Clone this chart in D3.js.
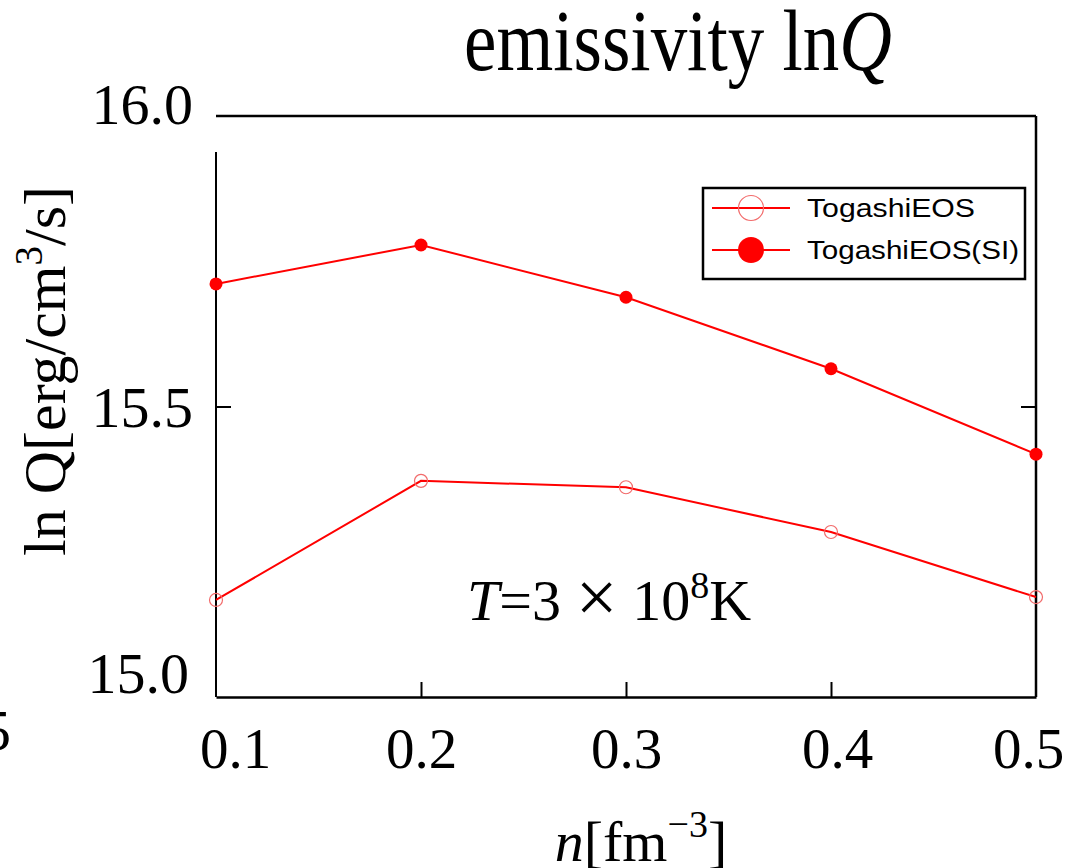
<!DOCTYPE html>
<html><head><meta charset="utf-8">
<script src="https://cdn.jsdelivr.net/npm/d3@7"></script>
<style>
html,body{margin:0;padding:0;background:#fff;}
svg text{font-family:"Liberation Serif","Times New Roman",serif;fill:#000;}
</style></head>
<body>
<svg id="chart" width="1070" height="868"></svg>
<script>
const densities = [0.1, 0.2, 0.3, 0.4, 0.5];
const togashi = [15.167, 15.372, 15.361, 15.284, 15.172];
const togashiSI = [15.711, 15.778, 15.688, 15.565, 15.418];
const xTicks = [0.1, 0.2, 0.3, 0.4, 0.5];
const yTicks = [15.0, 15.5, 16.0];
const seriesNames = ["TogashiEOS", "TogashiEOS(SI)"];

const svg = d3.select("#chart");
const x = d3.scaleLinear().domain([0.1, 0.5]).range([216, 1036]);
const y = d3.scaleLinear().domain([15.0, 16.0]).range([697, 116]);

// frame
svg.append("line").attr("x1",216).attr("x2",1036).attr("y1",116).attr("y2",116).attr("stroke","#000").attr("stroke-width",2.5);
svg.append("line").attr("x1",1036).attr("x2",1036).attr("y1",116).attr("y2",697).attr("stroke","#000").attr("stroke-width",2.5);
svg.append("line").attr("x1",216).attr("x2",216).attr("y1",152).attr("y2",697).attr("stroke","#000").attr("stroke-width",2);

// bottom axis
const xAxis = d3.axisBottom(x).tickValues(xTicks).tickSizeInner(-15).tickSizeOuter(0).tickPadding(31).tickFormat(d3.format(".1f"));
const gx = svg.append("g").attr("transform","translate(0,697)").call(xAxis);
gx.select(".domain").attr("stroke","#000").attr("stroke-width",2.5);
gx.selectAll(".tick line").attr("stroke","#000").attr("stroke-width",2)
  .style("display",(d)=> (d===0.1||d===0.5)?"none":null);
const xDx = {0.1: 19, 0.2: 0, 0.3: 0, 0.4: 6, 0.5: -8};
gx.selectAll(".tick text").attr("font-size",57).attr("font-family","Liberation Serif")
  .attr("fill","#000").attr("dx",d=>xDx[d]);

// left axis labels
const yAxis = d3.axisLeft(y).tickValues(yTicks).tickSizeInner(-15).tickSizeOuter(0).tickPadding(23).tickFormat(d3.format(".1f"));
const gy = svg.append("g").attr("transform","translate(216,0)").call(yAxis);
gy.select(".domain").remove();
gy.selectAll(".tick line").attr("stroke","#000").attr("stroke-width",2)
  .style("display",d=> d===15.5?null:"none");
const yDy = {15.0: -25, 15.5: 0, 16.0: -13};
const yDx = {15.0: -4, 15.5: 0, 16.0: 0};
gy.selectAll(".tick text").attr("font-size",58).attr("font-family","Liberation Serif")
  .attr("fill","#000").attr("dy",d=> (yDy[d]+20)+"px").attr("dx",d=>yDx[d]);

// right ticks
const gyr = svg.append("g").attr("transform","translate(1036,0)")
  .call(d3.axisRight(y).tickValues([15.5]).tickSizeInner(-15).tickSizeOuter(0).tickFormat(""));
gyr.select(".domain").remove();
gyr.selectAll(".tick line").attr("stroke","#000").attr("stroke-width",2);

// lines
const line = d3.line().x((d,i)=>x(densities[i])).y(d=>y(d));
svg.append("path").datum(togashi).attr("d",line).attr("fill","none").attr("stroke","#ff0000").attr("stroke-width",2);
svg.append("path").datum(togashiSI).attr("d",line).attr("fill","none").attr("stroke","#ff0000").attr("stroke-width",2);

svg.append("g").selectAll("circle").data(togashi).join("circle")
  .attr("cx",(d,i)=>x(densities[i])).attr("cy",d=>y(d)).attr("r",6.5)
  .attr("fill","none").attr("stroke","#f26b6b").attr("stroke-width",1.2);
svg.append("g").selectAll("circle").data(togashiSI).join("circle")
  .attr("cx",(d,i)=>x(densities[i])).attr("cy",d=>y(d)).attr("r",6.5)
  .attr("fill","#ff0000");

// legend
const lg = svg.append("g");
lg.append("rect").attr("x",703).attr("y",188).attr("width",322).attr("height",91)
  .attr("fill","#fff").attr("stroke","#000").attr("stroke-width",2.5);
const rows = [208, 250];
const legendWidths = [168, 212];
seriesNames.forEach((name,i)=>{
  lg.append("line").attr("x1",712).attr("x2",790).attr("y1",rows[i]).attr("y2",rows[i]).attr("stroke","#ff0000").attr("stroke-width",2);
  if(i===0){
    lg.append("circle").attr("cx",751).attr("cy",rows[i]).attr("r",12.5).attr("fill","none").attr("stroke","#f26b6b").attr("stroke-width",1.2);
  } else {
    lg.append("circle").attr("cx",751).attr("cy",rows[i]).attr("r",13).attr("fill","#ff0000");
  }
  lg.append("text").attr("x",807).attr("y",rows[i]+9).attr("font-size",25)
    .attr("textLength",legendWidths[i]).attr("lengthAdjust","spacingAndGlyphs")
    .style("font-family","'Liberation Sans',Arial,sans-serif").text(name);
});

// title
const title = svg.append("text").attr("transform","translate(678,70) scale(1,1.18)").attr("text-anchor","middle").attr("font-size",73);
title.append("tspan").text("emissivity ln");
title.append("tspan").attr("font-style","italic").text("Q");

// annotation
const ann = svg.append("text").attr("x",467).attr("y",620).attr("font-size",58);
ann.append("tspan").attr("font-style","italic").text("T");
ann.append("tspan").text("=3");
ann.append("tspan").attr("font-size",74).attr("dy",2).text("\u2009\u00d7\u2009");
ann.append("tspan").attr("dy",-2).text("10");
ann.append("tspan").attr("font-size",38).attr("dy",-22).text("8");
ann.append("tspan").attr("dy",22).text("K");

// x label
const xl = svg.append("text").attr("x",641).attr("y",861).attr("text-anchor","middle").attr("font-size",58);
xl.append("tspan").attr("font-style","italic").text("n");
xl.append("tspan").text("[fm");
xl.append("tspan").attr("font-size",38).attr("dy",-24).text("\u22123");
xl.append("tspan").attr("dy",24).text("]");

// y label
const yl = svg.append("text").attr("transform","translate(65,371) rotate(-90)").attr("text-anchor","middle").attr("font-size",60);
yl.append("tspan").text("ln Q[erg/cm");
yl.append("tspan").attr("font-size",39).attr("dy",-23).text("3");
yl.append("tspan").attr("dy",23).text("/s]");

// cut-off neighbour label
svg.append("text").attr("x",11).attr("y",750).attr("text-anchor","end").attr("font-size",58).text("5");
</script>
</body></html>
